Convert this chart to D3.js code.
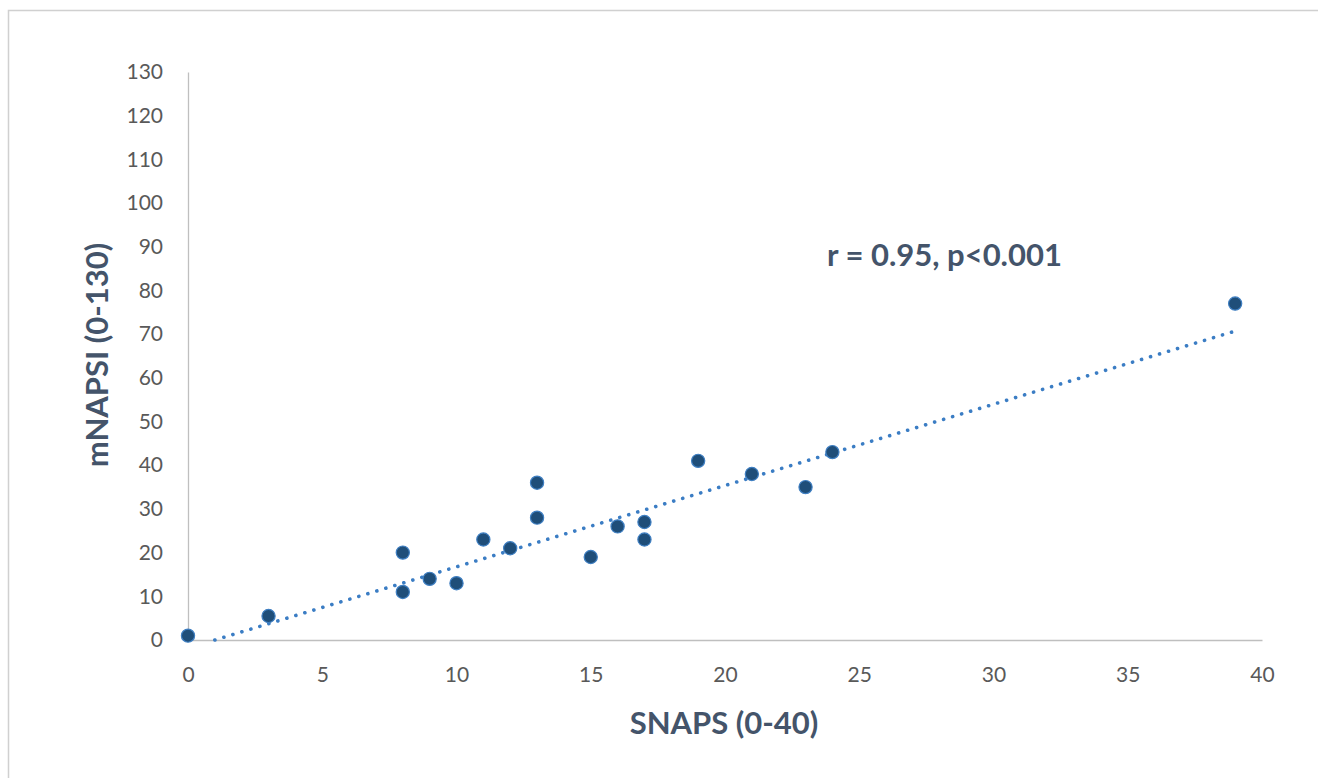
<!DOCTYPE html>
<html><head><meta charset="utf-8">
<script src="https://cdn.jsdelivr.net/npm/d3@7"></script>
<style>
html,body{margin:0;padding:0;background:#fff;}
svg{display:block;font-family:Lato, "Open Sans", sans-serif;}
</style></head>
<body><svg id="chart" width="1318" height="778"></svg>
<script>
// Data
const snaps  = [0, 3, 8, 8, 9, 10, 11, 12, 13, 13, 15, 16, 17, 17, 19, 21, 23, 24, 39];
const mnapsi = [1, 5.5, 20, 11, 14, 13, 23, 21, 36, 28, 19, 26, 27, 23, 41, 38, 35, 43, 77];
const trendX = [1, 39];
const trendY = [0, 70.7];
const xTicks = [0, 5, 10, 15, 20, 25, 30, 35, 40];
const yTicks = [0, 10, 20, 30, 40, 50, 60, 70, 80, 90, 100, 110, 120, 130];
const xTitle = "SNAPS (0-40)";
const yTitle = "mNAPSI (0-130)";
const note = "r = 0.95, p<0.001";

const svg = d3.select("#chart");
svg.append("rect").attr("x",8.5).attr("y",10.5).attr("width",1330).attr("height",800)
  .attr("fill","none").attr("stroke","#d0d0d0").attr("stroke-width",1.5);

const x = d3.scaleLinear().domain([0,40]).range([188,1262]);
const y = d3.scaleLinear().domain([0,130]).range([640,72]);

const xAxis = d3.axisBottom(x).tickValues(xTicks).tickSize(0).tickPadding(35);
const yAxis = d3.axisLeft(y).tickValues(yTicks).tickSize(0).tickPadding(25);

const gx = svg.append("g").attr("transform",`translate(0,${y(0)})`).call(xAxis);
const gy = svg.append("g").attr("transform",`translate(${x(0)},0)`).call(yAxis);
[gx,gy].forEach(g=>{
  g.select(".domain").attr("stroke","#bfbfbf").attr("stroke-width",1.3);
  g.selectAll("text").attr("fill","#595959").style("font-size","21px").style("font-family","Lato, 'Open Sans', sans-serif");
});
gx.selectAll("text").attr("dy","0.35em");

// trendline
svg.append("line")
  .attr("x1",x(trendX[0])).attr("y1",y(trendY[0]))
  .attr("x2",x(trendX[1])).attr("y2",y(trendY[1]))
  .attr("stroke","#3b7dc4").attr("stroke-width",3.6)
  .attr("stroke-linecap","round").attr("stroke-dasharray","0.1 9.3");

// points
svg.append("g").selectAll("circle").data(snaps.map((s,i)=>[s,mnapsi[i]])).join("circle")
  .attr("cx",d=>x(d[0])).attr("cy",d=>y(d[1])).attr("r",6.6)
  .attr("fill","#1f4e79").attr("stroke","#3f7fc2").attr("stroke-width",1.2);

svg.append("text").attr("x",724).attr("y",734).attr("text-anchor","middle")
  .attr("fill","#44546a").style("font-size","31px").style("font-weight","bold").text(xTitle);
svg.append("text").attr("transform","translate(108,355) rotate(-90)").attr("text-anchor","middle")
  .attr("fill","#44546a").style("font-size","31px").style("font-weight","bold").text(yTitle);
svg.append("text").attr("x",827).attr("y",266)
  .attr("fill","#44546a").style("font-size","31px").style("font-weight","bold").text(note);
</script></body></html>
